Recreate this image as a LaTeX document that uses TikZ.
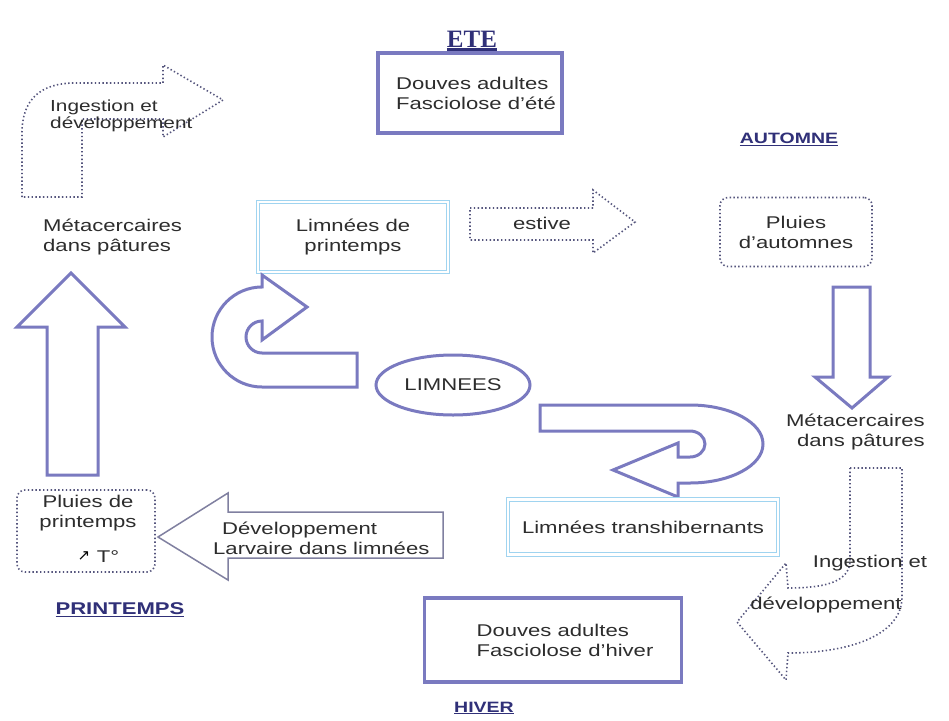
\documentclass[tikz,border=0pt]{standalone}
\usepackage{fontspec}
\setmainfont[FakeStretch=1.3]{Liberation Sans}
\newfontfamily\titleserif{Liberation Serif}
\newfontfamily\symfont{DejaVu Sans}
\usetikzlibrary{arrows.meta,shapes.geometric}
\definecolor{outl}{RGB}{122,122,192}
\definecolor{lblue}{RGB}{160,212,240}
\definecolor{dotc}{RGB}{85,85,125}
\definecolor{navy}{RGB}{48,48,120}
\definecolor{txt}{RGB}{45,45,45}
\definecolor{grayarrow}{RGB}{128,128,160}
\tikzset{
  blockarrow/.style={draw=outl, line width=3pt, line join=miter, fill=white},
  thinarrow/.style={draw=grayarrow, line width=1.5pt, line join=miter, fill=white},
  dotarrow/.style={draw=dotc, line width=1.6pt, dash pattern=on 1.4pt off 2.4pt},
  thickbox/.style={draw=outl, line width=3.5pt, inner sep=0pt, align=left},
  bluebox/.style={draw=lblue, line width=0.9pt, double=white, double distance=2.5pt, inner sep=0pt, align=center},
  dotbox/.style={draw=dotc, line width=1.6pt, dash pattern=on 1.4pt off 2.4pt, rounded corners=8pt, inner sep=0pt, align=center},
  lbl/.style={inner sep=0pt, text=txt},
  sanstitle/.style={inner sep=0pt, text=navy, font=\bfseries\fontsize{15}{15}\selectfont},
}
\begin{document}
\begin{tikzpicture}[x=1pt, y=-1pt, font=\fontsize{17}{20}\selectfont, text=txt]
\fill[white] (0,0) rectangle (949,720);
\useasboundingbox (0,0) rectangle (949,720);

% ETE
\node[inner sep=0pt, text=navy, font=\titleserif\bfseries\fontsize{25}{25}\selectfont] (ete) at (472,39) {ETE};
\draw[navy, line width=2.5pt] ([yshift=-2pt]ete.south west) -- ([yshift=-2pt]ete.south east);
\node[thickbox, minimum width=184pt, minimum height=80pt] (douvesete) at (470,93)
  {\hspace*{12pt}Douves adultes\\\hspace*{12pt}Fasciolose d’été};

% AUTOMNE
\node[sanstitle] (automne) at (789,139) {\underline{AUTOMNE}};
\node[dotbox, minimum width=152pt, minimum height=69pt] (pluiesaut) at (796,232)
  {Pluies\\d’automnes};

% estive arrow
\draw[dotarrow] (470,208) -- (593,208) -- (593,190) -- (635,222) -- (593,253) -- (593,240) -- (470,240) -- cycle;
\node[lbl] (estive) at (542,223) {estive};

% Limnees de printemps
\node[bluebox, minimum width=190pt, minimum height=70pt] (limprint) at (353,237)
  {Limnées de\\printemps};

% left curved arrow
\draw[blockarrow] (357,353) -- (262,353) arc[start angle=90, end angle=270, radius=16]
  -- (262,340) -- (307,307) -- (262,275) -- (262,287)
  arc[start angle=270, end angle=90, radius=50] -- (357,387) -- cycle;

% LIMNEES
\node[ellipse, draw=outl, line width=3pt, minimum width=154pt, minimum height=60pt, inner sep=0pt] (limnees) at (453,385) {LIMNEES};

% right curved arrow
\draw[blockarrow] (540,405) -- (690,405) arc[start angle=-90, end angle=90, x radius=73, y radius=39]
  -- (678,483) -- (678,497) -- (613,470) -- (678,443) -- (678,457) -- (690,457)
  arc[start angle=90, end angle=-90, x radius=15, y radius=13] -- (540,431) -- cycle;

% Limnees transhibernants
\node[bluebox, minimum width=270pt, minimum height=55pt] (limtrans) at (643,527) {Limnées transhibernants};

% down arrow (autumn)
\draw[blockarrow] (833,287) -- (870,287) -- (870,377) -- (888,377) -- (852,408) -- (815,377) -- (833,377) -- cycle;
\node[lbl, anchor=east, align=right] (metadroite) at (925,432) {Métacercaires\\dans pâtures};

% bottom-right dotted bent arrow
\draw[dotarrow] (850,468) -- (902,468) -- (902,597) .. controls (902,635) and (850,653) .. (788,653)
  -- (786,680) -- (737,622) -- (786,563) -- (788,588) .. controls (830,588) and (850,580) .. (850,560) -- cycle;
\node[lbl] (ing2a) at (870,563) {Ingestion et};
\node[lbl] (ing2b) at (826,605) {développement};

% hiver
\node[thickbox, minimum width=257pt, minimum height=84pt] (douveshiv) at (553,640)
  {\hspace*{24pt}Douves adultes\\\hspace*{24pt}Fasciolose d’hiver};
\node[sanstitle] (hiver) at (484,708) {\underline{HIVER}};

% printemps
\node[dotbox, minimum width=138pt, minimum height=82pt] (pluiesprint) at (86,531) {};
\node[lbl, align=center] (pluiestxt) at (88,513) {Pluies de\\printemps};
\node[inner sep=0pt, font=\symfont\fontsize{15}{15}\selectfont, text=black] (flecheT) at (84,556) {↗};
\node[lbl] (temp) at (108,557) {T°};
\node[sanstitle, font=\bfseries\fontsize{17}{17}\selectfont] (printemps) at (120,610) {\underline{PRINTEMPS}};

% left arrow Developpement
\draw[thinarrow] (443,512) -- (443,558) -- (228,558) -- (228,580) -- (158,537) -- (228,493) -- (228,512) -- cycle;
\node[lbl, anchor=west, align=left] (devlarv) at (213,538) {\hspace*{9pt}Développement\\Larvaire dans limnées};

% up arrow
\draw[blockarrow] (47,475) -- (47,327) -- (17,327) -- (71,273) -- (125,327) -- (98,327) -- (98,475) -- cycle;
\node[lbl, anchor=west, align=left] (metagauche) at (43,237) {Métacercaires\\dans pâtures};

% top-left dotted bent arrow
\draw[dotarrow] (22,197) -- (22,133) .. controls (22,100) and (40,83) .. (75,83) -- (163,83) -- (163,65)
  -- (223,100) -- (163,137) -- (163,119) -- (82,119) -- (82,197) -- cycle;
\node[lbl, anchor=west, align=left, font=\fontsize{16}{17}\selectfont] (ing1) at (50,116) {Ingestion et\\développement};
\end{tikzpicture}
\end{document}
